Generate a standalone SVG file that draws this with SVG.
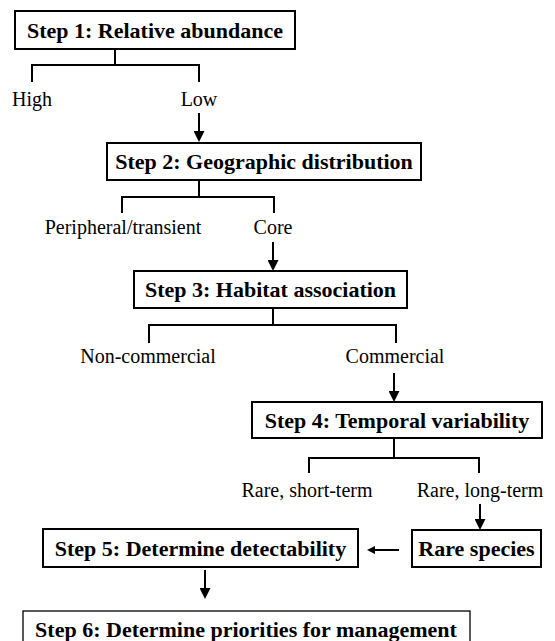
<svg xmlns="http://www.w3.org/2000/svg" width="555" height="641" viewBox="0 0 555 641">
  <style>
    .box { fill: #fff; stroke: #000; stroke-width: 2; }
    .thin { stroke-width: 1.3; }
    .title { font-family: "Liberation Serif", "Times New Roman", serif; font-weight: bold; font-size: 22px; fill: #000; text-anchor: middle; }
    .lbl { font-family: "Liberation Serif", "Times New Roman", serif; font-size: 20px; fill: #000; text-anchor: middle; }
    .ln { fill: none; stroke: #000; stroke-width: 2; }
  </style>
  <defs>
    <marker id="ah" viewBox="0 0 11 11" markerWidth="11" markerHeight="11" refX="3" refY="5.5" orient="auto" markerUnits="userSpaceOnUse">
      <path d="M0,0 L11,5.5 L0,11 z" fill="#000"/>
    </marker>
    <marker id="ahs" viewBox="0 0 8 8" markerWidth="8" markerHeight="8" refX="2" refY="4" orient="auto" markerUnits="userSpaceOnUse">
      <path d="M0,0 L8,4 L0,8 z" fill="#000"/>
    </marker>
  </defs>
  <rect width="555" height="641" fill="#fff"/>

  <g id="connectors">
    <path class="ln" d="M115,49 V65 M32,82 V65 H199 V82"/>
    <path class="ln" d="M199,113 V134" marker-end="url(#ah)"/>
    <path class="ln" d="M199,180 V197 M122,213 V197 H274 V213"/>
    <path class="ln" d="M273,242 V263" marker-end="url(#ah)"/>
    <path class="ln" d="M273,308 V325 M149,343 V325 H396 V343"/>
    <path class="ln" d="M394,373 V394" marker-end="url(#ah)"/>
    <path class="ln" d="M394,438 V458 M309,473 V458 H479 V473"/>
    <path class="ln" d="M480,504 V522" marker-end="url(#ah)"/>
    <path class="ln" d="M399,550 H373" marker-end="url(#ahs)"/>
    <path class="ln" d="M205,570 V591" marker-end="url(#ah)"/>
  </g>

  <g id="step1">
    <rect class="box" x="15" y="11" width="280" height="38"/>
    <text class="title" x="155" y="38">Step 1: Relative abundance</text>
  </g>
  <g id="high"><text class="lbl" x="32" y="106">High</text></g>
  <g id="low"><text class="lbl" x="199" y="106">Low</text></g>

  <g id="step2">
    <rect class="box" x="107" y="143" width="314" height="37"/>
    <text class="title" x="264" y="169">Step 2: Geographic distribution</text>
  </g>
  <g id="peripheral"><text class="lbl" x="123" y="234">Peripheral/transient</text></g>
  <g id="core"><text class="lbl" x="273" y="234">Core</text></g>

  <g id="step3">
    <rect class="box" x="134" y="271" width="273" height="37"/>
    <text class="title" x="270.5" y="297">Step 3: Habitat association</text>
  </g>
  <g id="noncommercial"><text class="lbl" x="148" y="363">Non-commercial</text></g>
  <g id="commercial"><text class="lbl" x="395" y="363">Commercial</text></g>

  <g id="step4">
    <rect class="box" x="252" y="402" width="290" height="36"/>
    <text class="title" x="397" y="428">Step 4: Temporal variability</text>
  </g>
  <g id="shortterm"><text class="lbl" x="307" y="497">Rare, short-term</text></g>
  <g id="longterm"><text class="lbl" x="480" y="497">Rare, long-term</text></g>

  <g id="rare">
    <rect class="box" x="412" y="530" width="129" height="37"/>
    <text class="title" x="476.5" y="556">Rare species</text>
  </g>

  <g id="step5">
    <rect class="box" x="43" y="529" width="315" height="38"/>
    <text class="title" x="200.5" y="556">Step 5: Determine detectability</text>
  </g>

  <g id="step6">
    <rect class="box thin" x="23" y="611" width="447" height="40"/>
    <text class="title" x="246" y="637">Step 6: Determine priorities for management</text>
  </g>
</svg>
